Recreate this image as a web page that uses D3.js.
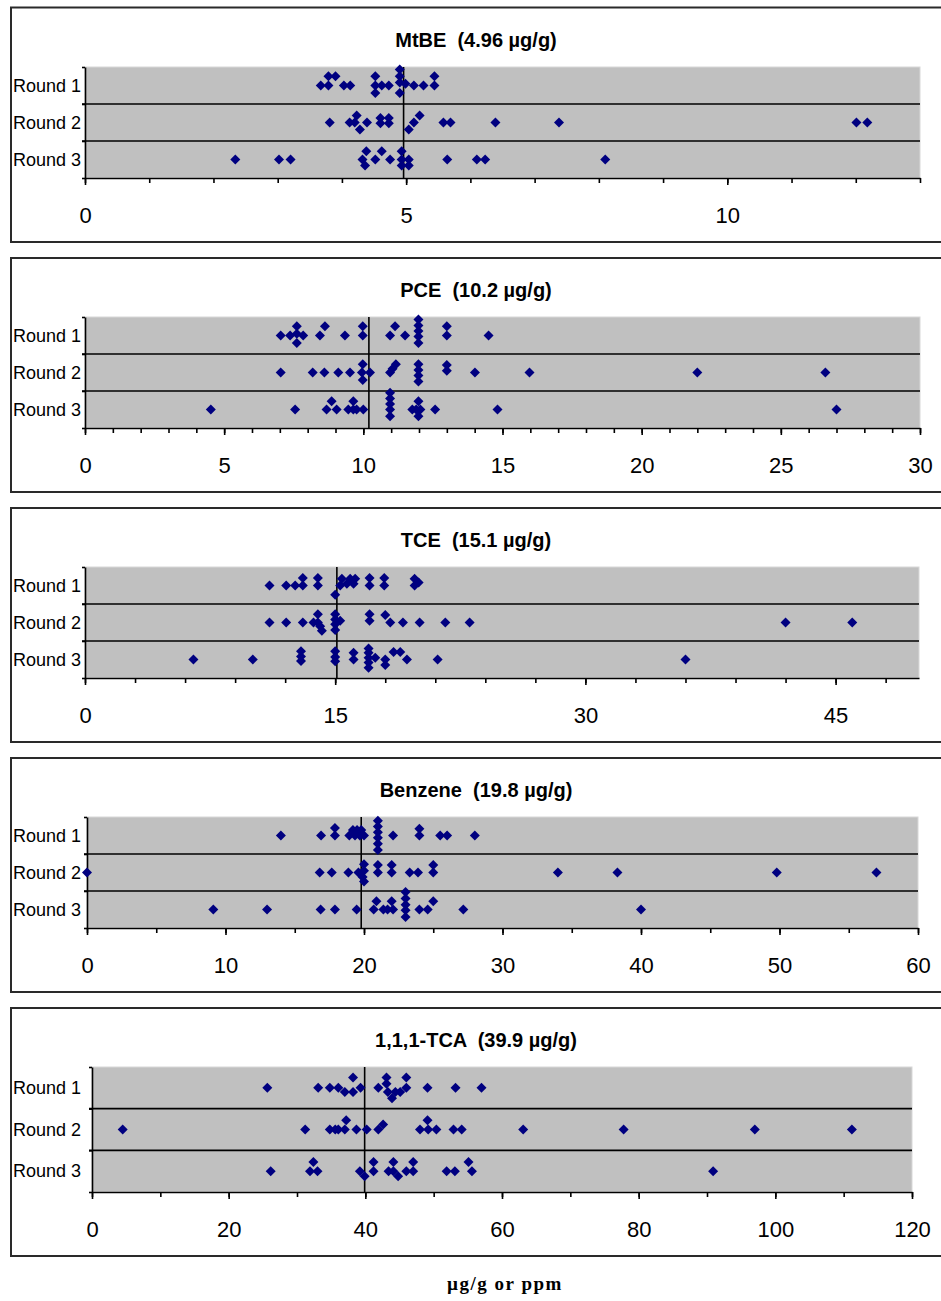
<!DOCTYPE html>
<html><head><meta charset="utf-8">
<script src="https://cdn.jsdelivr.net/npm/d3@7"></script>
<style>body{margin:0;background:#fff}svg text{font-family:"Liberation Sans",Arial,sans-serif}</style>
</head><body><svg id="c" width="941" height="1301"></svg>
<script>
// ---------- data ----------
const rounds = ["Round 1", "Round 2", "Round 3"];
const analytes = ["MtBE", "PCE", "TCE", "Benzene", "1,1,1-TCA"];
const assignedValues = [4.96, 10.2, 15.1, 19.8, 39.9];
const axisMax = [13, 30, 50, 60, 120];
const majorTicks = [
  [0, 5, 10],
  [0, 5, 10, 15, 20, 25, 30],
  [0, 15, 30, 45],
  [0, 10, 20, 30, 40, 50, 60],
  [0, 20, 40, 60, 80, 100, 120]
];
const minorStep = [1, 1, 3, 5, 10];
const xAxisTitle = "µg/g or ppm";

// each point: [reported value, vertical stacking offset (fraction of a row)]
const mtbeR1 = [[3.67,0],[3.79,0],[3.79,.25],[3.90,.25],[4.03,0],[4.13,0],[4.52,.25],[4.52,0],[4.52,-.2],[4.62,0],[4.73,0],[4.90,.43],[4.90,.25],[4.90,.08],[4.90,-.2],[4.99,.05],[5.12,0],[5.27,0],[5.44,.25],[5.44,0]];
const mtbeR2 = [[3.81,0],[4.12,0],[4.20,0],[4.23,.19],[4.28,-.19],[4.39,0],[4.60,.12],[4.73,.12],[4.60,-.02],[4.73,-.02],[5.04,-.19],[5.12,0],[5.21,.19],[5.58,0],[5.69,0],[6.39,0],[7.38,0],[12.01,0],[12.18,0]];
const mtbeR3 = [[2.34,0],[3.02,0],[3.20,0],[4.38,.22],[4.32,0],[4.36,-.16],[4.52,0],[4.62,.22],[4.75,0],[4.93,.22],[4.93,0],[5.04,0],[4.93,-.16],[5.04,-.16],[5.64,0],[6.10,0],[6.23,0],[8.10,0]];

const pceR1 = [[7.03,0],[7.37,0],[7.61,.25],[7.61,.05],[7.61,-.2],[7.84,0],[8.44,0],[8.62,.25],[9.34,0],[9.98,.25],[9.98,0],[10.96,0],[11.14,.25],[11.50,0],[11.98,.43],[11.98,.27],[11.98,.12],[11.98,-.03],[11.98,-.2],[13.0,.25],[13.0,0],[14.5,0]];
const pceR2 = [[7.03,0],[8.18,0],[8.60,0],[9.10,0],[9.52,0],[9.98,.22],[9.95,0],[9.98,-.2],[10.24,0],[10.96,0],[11.05,.1],[11.17,.22],[11.98,.22],[11.98,.07],[11.98,-.08],[11.98,-.24],[13.0,.2],[13.0,.05],[14.01,0],[15.97,0],[22.0,0],[26.6,0]];
const pceR3 = [[4.52,0],[7.55,0],[8.68,0],[8.86,.22],[9.04,0],[9.46,0],[9.64,.22],[9.64,0],[9.76,0],[10.0,0],[10.96,.45],[10.96,.3],[10.96,.15],[10.96,0],[10.96,-.18],[11.76,0],[11.9,0],[11.98,.22],[12.05,0],[11.98,-.18],[12.58,0],[14.82,0],[27.0,0]];

const tceR1 = [[11.06,0],[12.06,0],[12.6,0],[13.06,.2],[13.06,0],[13.96,.2],[13.96,0],[15.0,-.25],[15.3,0],[15.4,.18],[15.7,.05],[15.9,.18],[16.1,.05],[16.2,.18],[17.06,.2],[17.06,0],[17.94,.2],[17.94,0],[19.76,.18],[19.76,0],[20.0,.08]];
const tceR2 = [[11.06,0],[12.06,0],[13.06,0],[13.7,0],[13.96,.22],[13.96,0],[14.1,-.1],[14.2,-.22],[15.0,.22],[15.0,.08],[15.0,-.05],[15.0,-.2],[15.3,.05],[17.06,.22],[17.06,.05],[18.0,.2],[18.3,0],[19.06,0],[20.06,0],[21.6,0],[23.06,0],[42.0,0],[46.0,0]];
const tceR3 = [[6.5,0],[10.06,0],[12.95,.22],[12.95,.08],[12.95,-.04],[15.0,.22],[15.0,.07],[15.0,-.05],[16.1,.18],[16.1,0],[17.0,.3],[17.0,.18],[17.0,.05],[17.0,-.08],[17.0,-.22],[17.4,.05],[18.0,0],[18.0,-.15],[18.5,.2],[18.9,.2],[19.3,0],[21.14,0],[36.0,0]];

const benzR1 = [[14.0,0],[16.9,0],[17.9,.2],[17.9,0],[18.94,0],[19.2,.15],[19.35,0],[19.5,.15],[19.7,0],[19.8,.15],[20.0,0],[21.0,.4],[21.0,.24],[21.0,.09],[21.0,-.06],[21.0,-.22],[21.0,-.39],[22.1,0],[24.0,.18],[24.0,0],[25.5,0],[26.0,0],[28.0,0]];
const benzR2 = [[0,0],[16.8,0],[17.67,0],[18.87,0],[19.6,0],[20.0,.22],[20.0,.05],[19.9,-.12],[20.0,-.24],[21.0,.2],[21.0,0],[22.0,.2],[22.0,0],[23.3,0],[23.9,0],[25.0,.2],[25.0,0],[34.0,0],[38.3,0],[49.8,0],[57.0,0]];
const benzR3 = [[9.12,0],[13.0,0],[16.87,0],[17.9,0],[19.47,0],[20.7,0],[20.9,.22],[21.4,0],[21.7,0],[22.0,.22],[22.1,0],[23.0,.47],[23.0,.3],[23.0,.13],[23.0,-.02],[23.0,-.2],[24.0,0],[24.6,0],[25.0,.22],[27.17,0],[40.0,0]];

const tcaR1 = [[25.66,0],[33.1,0],[34.8,0],[36.05,0],[37.0,-.1],[38.2,.25],[38.2,-.1],[39.3,0],[41.9,0],[43.1,.25],[43.1,.1],[43.3,-.1],[43.9,-.25],[44.4,-.1],[45.1,-.1],[46.0,.25],[46.0,0],[49.1,0],[53.2,0],[57.0,0]];
const tcaR2 = [[4.49,0],[31.2,0],[34.8,0],[35.6,0],[36.05,0],[37.2,.22],[37.0,0],[38.7,0],[40.2,0],[41.9,0],[42.6,.12],[48.0,0],[49.1,.22],[49.2,0],[50.4,0],[52.9,0],[54.1,0],[63.1,0],[77.8,0],[97.0,0],[111.2,0]];
const tcaR3 = [[26.15,0],[31.9,0],[32.4,.22],[33.0,0],[39.2,0],[39.9,-.12],[41.2,.22],[41.2,0],[43.4,0],[44.1,.22],[44.1,0],[44.8,-.12],[46.0,0],[47.0,.22],[47.0,0],[51.9,0],[53.1,0],[55.1,.22],[55.6,0],[90.9,0]];

const seriesByPanel = [
  [mtbeR1, mtbeR2, mtbeR3],
  [pceR1, pceR2, pceR3],
  [tceR1, tceR2, tceR3],
  [benzR1, benzR2, benzR3],
  [tcaR1, tcaR2, tcaR3]
];

// ---------- layout ----------
const layout = [
  {boxTop: 7.5, plotTop: 67, plotBottom: 178, left: 85, right: 920},
  {boxTop: 258, plotTop: 317, plotBottom: 428, left: 85, right: 920},
  {boxTop: 508, plotTop: 567, plotBottom: 678, left: 85, right: 919},
  {boxTop: 758, plotTop: 817, plotBottom: 928, left: 87, right: 918},
  {boxTop: 1008, plotTop: 1067, plotBottom: 1192, left: 92, right: 912}
];

const svg = d3.select("#c");
const navy = "#000080";
const diamond = "M0,-5L5,0L0,5L-5,0Z";

analytes.forEach((name, p) => {
  const L = layout[p];
  const g = svg.append("g");
  // panel box
  g.append("rect").attr("x", 11).attr("y", L.boxTop)
    .attr("width", 960).attr("height", L.plotBottom + 64 - L.boxTop)
    .attr("fill", "#fff").attr("stroke", "#2a2a2a").attr("stroke-width", 2);
  // title
  g.append("text").attr("x", 476).attr("y", L.boxTop + 39)
    .attr("text-anchor", "middle").attr("font-size", 20).attr("font-weight", "bold")
    .text(`${name}  (${assignedValues[p]} µg/g)`).style("white-space", "pre");

  const x = d3.scaleLinear().domain([0, axisMax[p]]).range([L.left, L.right]);
  const y = d3.scaleLinear().domain([3, 0]).range([L.plotTop, L.plotBottom]);

  // plot area
  g.append("rect").attr("x", L.left).attr("y", L.plotTop)
    .attr("width", L.right - L.left).attr("height", L.plotBottom - L.plotTop)
    .attr("fill", "#c0c0c0").attr("stroke", "#d8d8d8").attr("stroke-width", 1);

  // row separators
  g.selectAll(".rowline").data([2, 1]).join("line")
    .attr("x1", L.left - 3).attr("x2", L.right)
    .attr("y1", d => y(d)).attr("y2", d => y(d))
    .attr("stroke", "#000").attr("stroke-width", 1.6);

  // left axis
  const yAxis = d3.axisLeft(y).tickValues([0, 1, 2, 3]).tickSize(3).tickSizeOuter(0).tickFormat("");
  const ya = g.append("g").attr("transform", `translate(${L.left},0)`).call(yAxis);
  ya.selectAll("path,line").attr("stroke", "#000").attr("stroke-width", 1.6);

  // round labels
  g.selectAll(".rlab").data(rounds).join("text")
    .attr("x", 13).attr("y", (d, i) => y(2.5 - i) + 6)
    .attr("font-size", 18).text(d => d);

  // bottom axis: minor ticks
  const minorVals = d3.range(0, axisMax[p] + 1e-9, minorStep[p]);
  const xMinor = d3.axisBottom(x).tickValues(minorVals).tickSize(5).tickSizeOuter(0).tickFormat("");
  const xm = g.append("g").attr("transform", `translate(0,${L.plotBottom})`).call(xMinor);
  xm.selectAll("path,line").attr("stroke", "#000").attr("stroke-width", 1.6);
  // major ticks with labels
  const xMajor = d3.axisBottom(x).tickValues(majorTicks[p]).tickSize(7).tickSizeOuter(0).tickFormat(d3.format("d"));
  const xM = g.append("g").attr("transform", `translate(0,${L.plotBottom})`).call(xMajor);
  xM.select("path").remove();
  xM.selectAll("line").attr("stroke", "#000").attr("stroke-width", 1.6);
  xM.selectAll("text").attr("y", 45).attr("dy", 0).attr("font-size", 22)
    .attr("fill", "#000").attr("font-family", '"Liberation Sans",Arial,sans-serif');

  // assigned value line
  g.append("line").attr("x1", x(assignedValues[p])).attr("x2", x(assignedValues[p]))
    .attr("y1", y(3)).attr("y2", y(0)).attr("stroke", "#000").attr("stroke-width", 1.6);

  // points
  seriesByPanel[p].forEach((pts, r) => {
    g.selectAll(null).data(pts).join("path")
      .attr("d", diamond)
      .attr("transform", d => `translate(${x(d[0])},${y(2.5 - r + d[1])})`)
      .attr("fill", navy);
  });
});

svg.append("text").attr("x", 505).attr("y", 1290).attr("text-anchor", "middle")
  .attr("font-size", 19).attr("font-weight", "bold").attr("letter-spacing", 1.5)
  .style("font-family", '"Liberation Serif","Times New Roman",serif')
  .text(xAxisTitle);
</script></body></html>
